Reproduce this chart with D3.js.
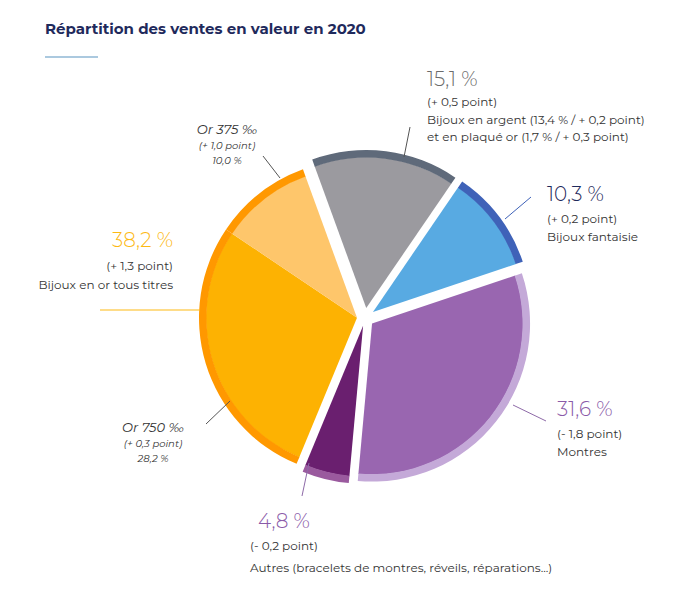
<!DOCTYPE html>
<html>
<head>
<meta charset="utf-8">
<script src="https://cdn.jsdelivr.net/npm/d3@7"></script>
<style>
  body { margin: 0; background: #fff; font-family: "Montserrat", "Open Sans", sans-serif; }
</style>
</head>
<body>
<svg id="chart" width="700" height="593"></svg>
<script>
// data
const categories = ["Bijoux en argent", "Bijoux fantaisie", "Montres", "Autres", "Or 750 ‰", "Or 375 ‰"];
const values = [15.1, 10.3, 31.6, 4.8, 28.2, 10.0];
const fillColors = ["#9b9a9f", "#58aae2", "#9966b0", "#6a1f6f", "#fdb202", "#fec66b"];
const rimColors = ["#5f6a7a", "#3f62b8", "#c4a9d8", "#9a5a9e", "#ff9800", "#ff9800"];
const explode = [10, 10, 9, 8, 8, 8];   // gold slices move together
const groups = [0, 1, 2, 3, 4, 4];

const svg = d3.select("#chart");
const cx = 365, cy = 318, r = 158, rim = 7;

// title
svg.append("text").attr("x", 45).attr("y", 34)
    .attr("font-size", 15).attr("font-weight", 700).attr("fill", "#1f2a5c")
    .text("Répartition des ventes en valeur en 2020");
svg.append("line").attr("x1", 45).attr("x2", 98).attr("y1", 57).attr("y2", 57)
    .attr("stroke", "#8fb7d4").attr("stroke-width", 1.5);

const pie = d3.pie().sort(null).startAngle(-20 / 180 * Math.PI).endAngle(340 / 180 * Math.PI);
const arcs = pie(values);

// group mid angles (gold slices share one offset)
const groupMid = {};
arcs.forEach((a, i) => {
    let g = groups[i];
    if (!groupMid[g]) groupMid[g] = [a.startAngle, a.endAngle];
    else groupMid[g][1] = a.endAngle;
});

const inner = d3.arc().innerRadius(0).outerRadius(r - rim);
const outer = d3.arc().innerRadius(r - rim - 0.5).outerRadius(r);

const slices = svg.append("g").selectAll("g")
    .data(arcs).enter().append("g")
    .attr("transform", (d, i) => {
        let m = groupMid[groups[i]];
        let ang = (m[0] + m[1]) / 2;
        let dx = cx + Math.sin(ang) * explode[i];
        let dy = cy - Math.cos(ang) * explode[i];
        return "translate(" + dx + "," + dy + ")";
    });
slices.append("path").attr("d", inner).attr("fill", (d, i) => fillColors[i]);
slices.append("path").attr("d", outer).attr("fill", (d, i) => rimColors[i]);

// leader lines
const leaders = [
    [[410, 127], [404, 157], "#555"],
    [[531, 197], [505, 219], "#3f62b8"],
    [[546, 421], [513, 405], "#8e6aa8"],
    [[302, 496], [309, 463], "#8e6aa8"],
    [[206, 424], [230, 401], "#555"],
    [[263, 156], [280, 178], "#555"],
    [[100, 310], [200, 310], "#fdb913"]
];
svg.append("g").selectAll("line").data(leaders).enter().append("line")
    .attr("x1", d => d[0][0]).attr("y1", d => d[0][1])
    .attr("x2", d => d[1][0]).attr("y2", d => d[1][1])
    .attr("stroke", d => d[2]).attr("stroke-width", 1);

// labels: [x, y, text, size, color, anchor, italic]
const labels = [
    [427, 86, "15,1 %", 20, "#6b6b6b", "start", false],
    [427, 106, "(+ 0,5 point)", 12, "#333", "start", false],
    [427, 124, "Bijoux en argent (13,4 % / + 0,2 point)", 12, "#333", "start", false],
    [427, 141, "et en plaqué or (1,7 % / + 0,3 point)", 12, "#333", "start", false],
    [547, 201, "10,3 %", 20, "#1f2a5c", "start", false],
    [547, 223, "(+ 0,2 point)", 12, "#333", "start", false],
    [547, 241, "Bijoux fantaisie", 12, "#333", "start", false],
    [557, 416, "31,6 %", 20, "#8a5aa8", "start", false],
    [557, 438, "(- 1,8 point)", 12, "#333", "start", false],
    [557, 456, "Montres", 12, "#333", "start", false],
    [258, 528, "4,8 %", 20, "#8a5aa8", "start", false],
    [250, 550, "(- 0,2 point)", 12, "#333", "start", false],
    [250, 572, "Autres (bracelets de montres, réveils, réparations...)", 12, "#333", "start", false],
    [173, 247, "38,2 %", 20, "#fdb913", "end", false],
    [173, 270, "(+ 1,3 point)", 12, "#333", "end", false],
    [173, 289, "Bijoux en or tous titres", 12, "#333", "end", false],
    [153, 432, "Or 750 ‰", 13, "#333", "middle", true],
    [153, 447, "(+ 0,3 point)", 10, "#333", "middle", true],
    [153, 462, "28,2 %", 10, "#333", "middle", true],
    [227, 134, "Or 375 ‰", 13, "#333", "middle", true],
    [227, 149, "(+ 1,0 point)", 10, "#333", "middle", true],
    [227, 164, "10,0 %", 10, "#333", "middle", true]
];
svg.append("g").selectAll("text").data(labels).enter().append("text")
    .attr("x", d => d[0]).attr("y", d => d[1])
    .attr("font-size", d => d[3]).attr("fill", d => d[4])
    .attr("text-anchor", d => d[5])
    .attr("font-style", d => d[6] ? "italic" : "normal")
    .attr("font-weight", d => d[3] >= 20 ? 300 : 400)
    .text(d => d[2]);
</script>
</body>
</html>
